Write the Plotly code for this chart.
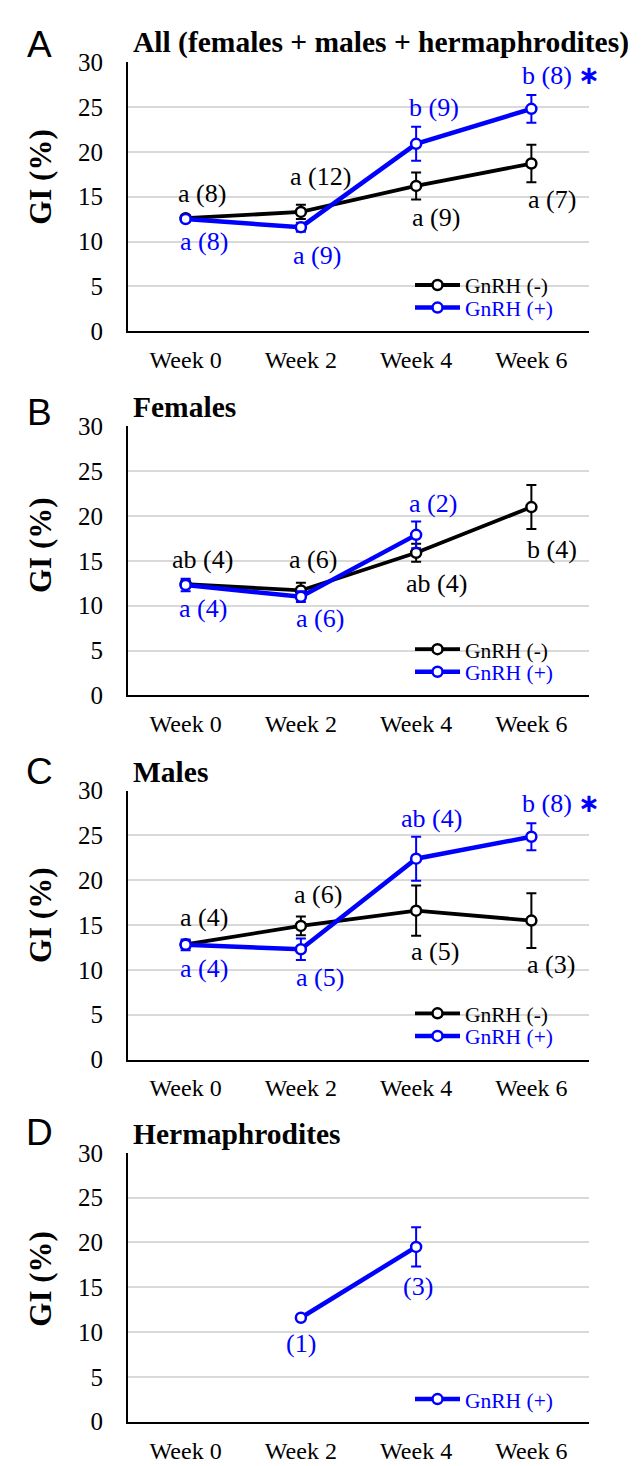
import plotly.graph_objects as go

# ---------------- data ----------------
weeks = ["Week 0", "Week 2", "Week 4", "Week 6"]

# Panel A: All (females + males + hermaphrodites)
a_neg = [12.6, 13.3, 16.2, 18.7]
a_neg_err = [0.3, 0.8, 1.5, 2.1]
a_pos = [12.5, 11.6, 20.9, 24.8]
a_pos_err = [0.3, 0.5, 1.9, 1.55]
a_neg_lbl = ["a (8)", "a (12)", "a (9)", "a (7)"]
a_pos_lbl = ["a (8)", "a (9)", "b (9)", "b (8) *"]

# Panel B: Females
b_neg = [12.4, 11.7, 15.9, 21.0]
b_neg_err = [0.4, 0.85, 1.0, 2.45]
b_pos = [12.3, 11.0, 17.9, None]
b_pos_err = [0.7, 0.6, 1.5, None]
b_neg_lbl = ["ab (4)", "a (6)", "ab (4)", "b (4)"]
b_pos_lbl = ["a (4)", "a (6)", "a (2)", None]

# Panel C: Males
c_neg = [12.85, 14.9, 16.6, 15.5]
c_neg_err = [0.4, 1.05, 2.8, 3.05]
c_pos = [12.8, 12.3, 22.4, 24.85]
c_pos_err = [0.6, 1.2, 2.45, 1.5]
c_neg_lbl = ["a (4)", "a (6)", "a (5)", "a (3)"]
c_pos_lbl = ["a (4)", "a (5)", "ab (4)", "b (8) *"]

# Panel D: Hermaphrodites
d_pos = [None, 11.6, 19.5, None]
d_pos_err = [None, 0, 2.2, None]
d_pos_lbl = [None, "(1)", "(3)", None]

panel_letters = ["A", "B", "C", "D"]
panel_titles = ["All (females + males + hermaphrodites)", "Females", "Males", "Hermaphrodites"]
y_ticks = [0, 5, 10, 15, 20, 25, 30]
neg_name = "GnRH (-)"
pos_name = "GnRH (+)"

# ---------------- layout / styling ----------------
W, H = 642, 1466
X0, X1 = 120, 581
panel_px = [(42, 316), (413, 687), (784, 1058), (1153, 1427)]  # (top, bottom) pixels
letter_y = [23.5, 399, 765, 1132.5]
ytitle_frac = [0.572, 0.557, 0.535, 0.53]
SERIF = "Liberation Serif"
SANS = "Liberation Sans"
BLACK = "#000000"
BLUE = "#0000ff"
ANN_SIZE = 26
STAR = '<span style="font-family:DejaVu Sans;font-weight:bold">\u2217</span>'

# label offsets (dx, dy) in pixels, dy positive = up
a_neg_off = [(16, 25), (20, 35), (20, -32), (21, -36)]
a_pos_off = [(18, -22), (16, -28), (18, 36), (30, 34)]
b_neg_off = [(17, 25), (12, 31), (20, -31), (21, -42)]
b_pos_off = [(17, -23), (19, -22), (17, 31), (0, 0)]
c_neg_off = [(18, 27), (17, 31), (19, -41), (20, -44)]
c_pos_off = [(18, -24), (19, -28), (15, 40), (30, 34)]
d_pos_off = [(0, 0), (0, -26), (2, -40), (0, 0)]

panels = [
    [(a_neg, a_neg_err, a_neg_lbl, a_neg_off, BLACK, 3.8, neg_name),
     (a_pos, a_pos_err, a_pos_lbl, a_pos_off, BLUE, 4.5, pos_name)],
    [(b_neg, b_neg_err, b_neg_lbl, b_neg_off, BLACK, 3.8, neg_name),
     (b_pos, b_pos_err, b_pos_lbl, b_pos_off, BLUE, 4.5, pos_name)],
    [(c_neg, c_neg_err, c_neg_lbl, c_neg_off, BLACK, 3.8, neg_name),
     (c_pos, c_pos_err, c_pos_lbl, c_pos_off, BLUE, 4.5, pos_name)],
    [(d_pos, d_pos_err, d_pos_lbl, d_pos_off, BLUE, 4.5, pos_name)],
]

fig = go.Figure()
layout = dict(width=W, height=H, margin=dict(l=0, r=0, t=0, b=0),
              paper_bgcolor="white", plot_bgcolor="white", showlegend=True)
annotations = []
legend_count = 0

for p, series in enumerate(panels):
    n = p + 1
    sfx = "" if n == 1 else str(n)
    top, bot = panel_px[p]
    layout["xaxis" + sfx] = dict(
        domain=[X0 / W, X1 / W], anchor="y" + sfx, type="category",
        categoryorder="array", categoryarray=weeks, range=[-0.5, 3.5],
        showline=True, linecolor=BLACK, linewidth=2, showgrid=False, ticks="",
        tickfont=dict(family=SERIF, size=24, color=BLACK), ticklabelstandoff=6,
        zeroline=False, fixedrange=True)
    layout["yaxis" + sfx] = dict(
        domain=[1 - bot / H, 1 - top / H], anchor="x" + sfx, range=[0, 30],
        tickvals=y_ticks, showgrid=True, gridcolor="#d9d9d9", gridwidth=1.5,
        showline=True, linecolor=BLACK, linewidth=2, ticks="",
        tickfont=dict(family=SERIF, size=25, color=BLACK), ticklabelstandoff=18,
        zeroline=False, fixedrange=True)

    for vals, errs, lbls, offs, color, lw, name in series:
        legend_count += 1
        lname = "legend" if legend_count == 1 else "legend" + str(legend_count)
        fig.add_trace(go.Scatter(
            x=weeks, y=vals, mode="lines+markers", name=name,
            line=dict(color=color, width=lw),
            marker=dict(symbol="circle", size=10, color="white",
                        line=dict(color=color, width=2.5)),
            error_y=dict(type="data", array=errs, visible=True, color=color,
                         thickness=2, width=5),
            xaxis="x" + sfx, yaxis="y" + sfx, legend=lname, cliponaxis=False))
        row_off = 47 if color == BLACK else 24
        if n == 4:
            row_off = 23
        layout[lname] = dict(
            x=402 / W, y=1 - (bot - row_off) / H, xanchor="left", yanchor="middle",
            bgcolor="rgba(0,0,0,0)", borderwidth=0, itemwidth=45,
            font=dict(family=SERIF, size=21.5, color=color), tracegroupgap=0)
        for i, (v, t) in enumerate(zip(vals, lbls)):
            if v is None or t is None:
                continue
            dx, dy = offs[i]
            annotations.append(dict(
                x=weeks[i], y=v, xref="x" + sfx, yref="y" + sfx,
                text=t.replace("*", STAR),
                showarrow=False, xanchor="center", yanchor="middle",
                xshift=dx, yshift=dy, font=dict(family=SERIF, size=ANN_SIZE, color=color)))

    # panel letter
    annotations.append(dict(
        x=31.5 / W, y=1 - letter_y[p] / H, xref="paper", yref="paper",
        text=panel_letters[p], showarrow=False, xanchor="center", yanchor="middle",
        font=dict(family=SANS, size=37, color=BLACK)))
    # panel title
    annotations.append(dict(
        x=123 / W, y=1 - top / H, xref="paper", yref="paper",
        text="<b>" + panel_titles[p] + "</b>", showarrow=False,
        xanchor="left", yanchor="bottom", yshift=1,
        font=dict(family=SERIF, size=29.5, color=BLACK)))
    # y-axis title
    annotations.append(dict(
        x=32.5 / W, y=ytitle_frac[p], xref="paper", yref="y" + sfx + " domain",
        text="<b>GI (%)</b>", showarrow=False, textangle=-90,
        xanchor="center", yanchor="middle",
        font=dict(family=SERIF, size=31, color=BLACK)))

layout["annotations"] = annotations
fig.update_layout(**layout)
fig.write_html("out.html")
